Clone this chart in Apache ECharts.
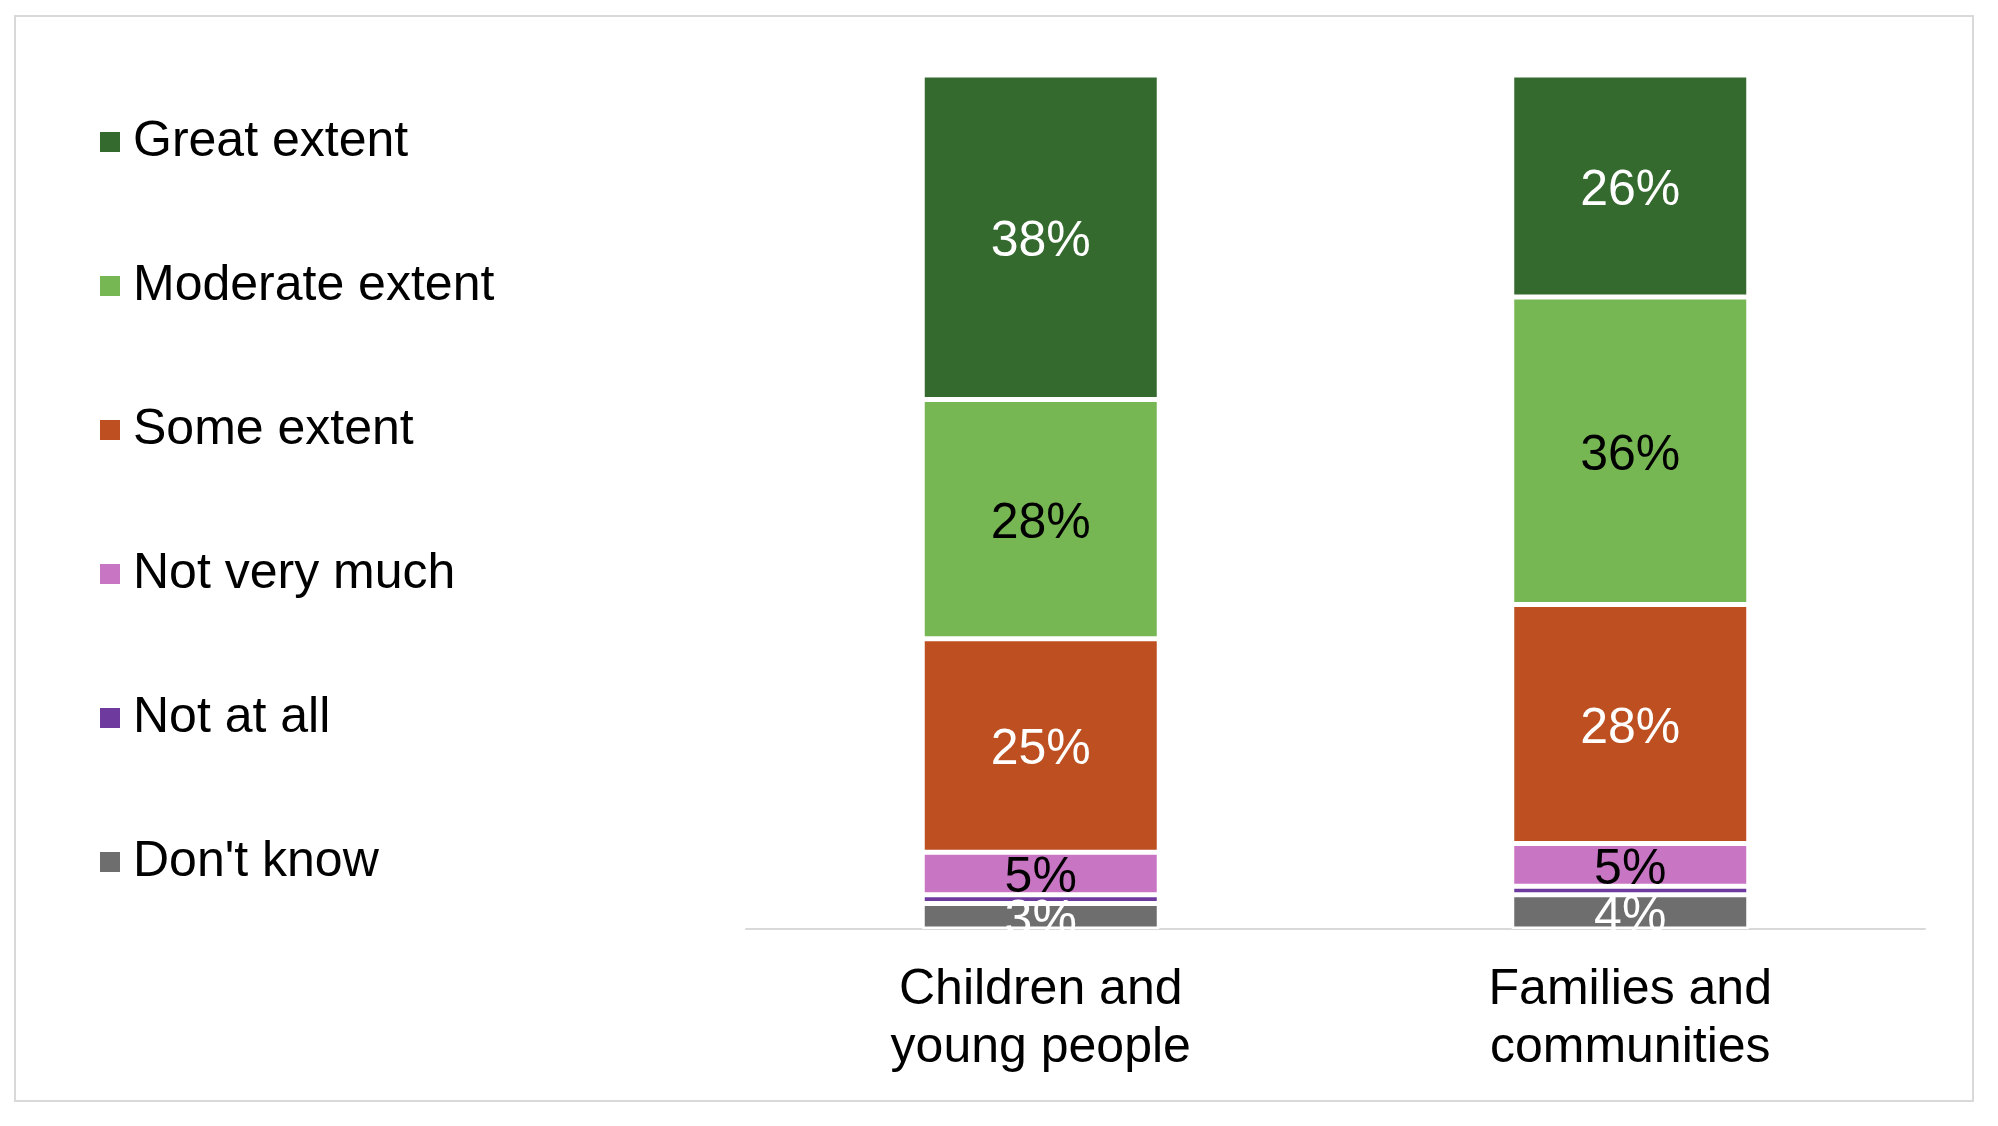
<!DOCTYPE html>
<html>
<head>
<meta charset="utf-8">
<title>Extent chart</title>
<script src="https://cdn.jsdelivr.net/npm/echarts@6/dist/echarts.min.js"></script>
<style>
  html, body { margin: 0; padding: 0; background: #fff; }
  #chart { width: 1998px; height: 1126px; }
</style>
</head>
<body>
<div id="chart"></div>
<script>
// categories (x axis)
var categories = ['Children and\nyoung people', 'Families and\ncommunities'];

// series values, bottom of the stack first
var dontKnow    = [3, 4];
var notAtAll    = [1, 1];
var notVeryMuch = [5, 5];
var someExtent  = [25, 28];
var moderate    = [28, 36];
var greatExtent = [38, 26];

// legend order, top to bottom
var legendOrder = ['Great extent', 'Moderate extent', 'Some extent', 'Not very much', 'Not at all', "Don't know"];

var FONT = "'Liberation Sans', Arial, sans-serif";

function makeSeries(name, values, color, labelColor, showLabel) {
  return {
    name: name,
    type: 'bar',
    stack: 'total',
    barWidth: 237,
    data: values,
    itemStyle: {
      color: color,
      borderColor: '#ffffff',
      borderWidth: 2.5
    },
    label: {
      show: showLabel,
      position: 'inside',
      offset: [0, 5],
      color: labelColor,
      fontFamily: FONT,
      fontSize: 50,
      formatter: '{c}%'
    },
    emphasis: { disabled: true }
  };
}

var chart = echarts.init(document.getElementById('chart'), null, { renderer: 'canvas' });

chart.setOption({
  animation: false,
  backgroundColor: '#ffffff',
  textStyle: { fontFamily: FONT },
  grid: {
    left: 746,
    right: 73,
    top: 75,
    bottom: 197
  },
  legend: {
    orient: 'vertical',
    left: 98,
    top: 114,
    padding: 0,
    itemWidth: 22,
    itemHeight: 22,
    itemGap: 88,
    icon: 'rect',
    data: legendOrder,
    selectedMode: false,
    textStyle: {
      fontFamily: FONT,
      fontSize: 50,
      color: '#000000',
      lineHeight: 56,
      padding: [0, 0, 0, 7]
    }
  },
  xAxis: {
    type: 'category',
    data: categories,
    axisLine: { show: true, lineStyle: { color: '#d9d9d9', width: 2 } },
    axisTick: { show: false },
    axisLabel: {
      interval: 0,
      margin: 32,
      color: '#000000',
      fontFamily: FONT,
      fontSize: 50,
      lineHeight: 58
    }
  },
  yAxis: {
    type: 'value',
    min: 0,
    max: 100,
    show: false,
    splitLine: { show: false }
  },
  series: [
    makeSeries("Don't know", dontKnow, '#6e6e6e', '#ffffff', true),
    makeSeries('Not at all', notAtAll, '#6e3a9e', '#ffffff', false),
    makeSeries('Not very much', notVeryMuch, '#c875c4', '#000000', true),
    makeSeries('Some extent', someExtent, '#bd4f20', '#ffffff', true),
    makeSeries('Moderate extent', moderate, '#77b753', '#000000', true),
    makeSeries('Great extent', greatExtent, '#356a2f', '#ffffff', true)
  ],
  graphic: [
    // hides the part of the small labels that falls under the axis line
    {
      type: 'rect',
      z: 100,
      shape: { x: 746, y: 931, width: 1179, height: 30 },
      style: { fill: '#ffffff' }
    },
    // outer frame
    {
      type: 'rect',
      z: 100,
      shape: { x: 15, y: 16, width: 1958, height: 1085 },
      style: { fill: 'none', stroke: '#d9d9d9', lineWidth: 2 }
    }
  ]
});
</script>
</body>
</html>
